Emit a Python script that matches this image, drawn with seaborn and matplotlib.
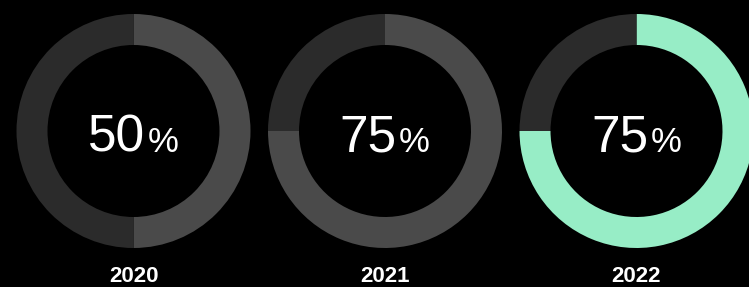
import matplotlib
matplotlib.use("Agg")
import matplotlib.pyplot as plt
import seaborn as sns

# data
years = ["2020", "2021", "2022"]
shares = [50, 75, 75]
fill_colors = ["#4a4a4a", "#4a4a4a", "#97edc6"]
rest_color = "#2b2b2b"

sns.set_theme(style="dark")
plt.rcParams["font.family"] = ["Liberation Sans", "DejaVu Sans"]

fig = plt.figure(figsize=(7.49, 2.87), dpi=100, facecolor="black")
ax = fig.add_axes([0, 0, 1, 1])
ax.set_facecolor("black")

centers_x = [133.5, 385, 636.5]
cy = 287 - 131
radius = 117
ring = 31

for year, share, col, cx in zip(years, shares, fill_colors, centers_x):
    ax.pie([share, 100 - share], colors=[col, rest_color], startangle=90,
           counterclock=False, center=(cx, cy), radius=radius,
           wedgeprops=dict(width=ring, linewidth=0))
    ax.text(cx + 12, cy - 21, f"{share}", color="white", fontsize=37,
            ha="right", va="baseline")
    ax.text(cx + 14, cy - 21, "%", color="white", fontsize=25,
            ha="left", va="baseline")
    ax.text(cx, 287 - 276, year, color="white", fontsize=16,
            fontweight="bold", ha="center", va="center")

ax.set_xlim(0, 749)
ax.set_ylim(0, 287)
ax.set_aspect("equal")
ax.axis("off")

fig.savefig("out.png", dpi=100, facecolor="black")
